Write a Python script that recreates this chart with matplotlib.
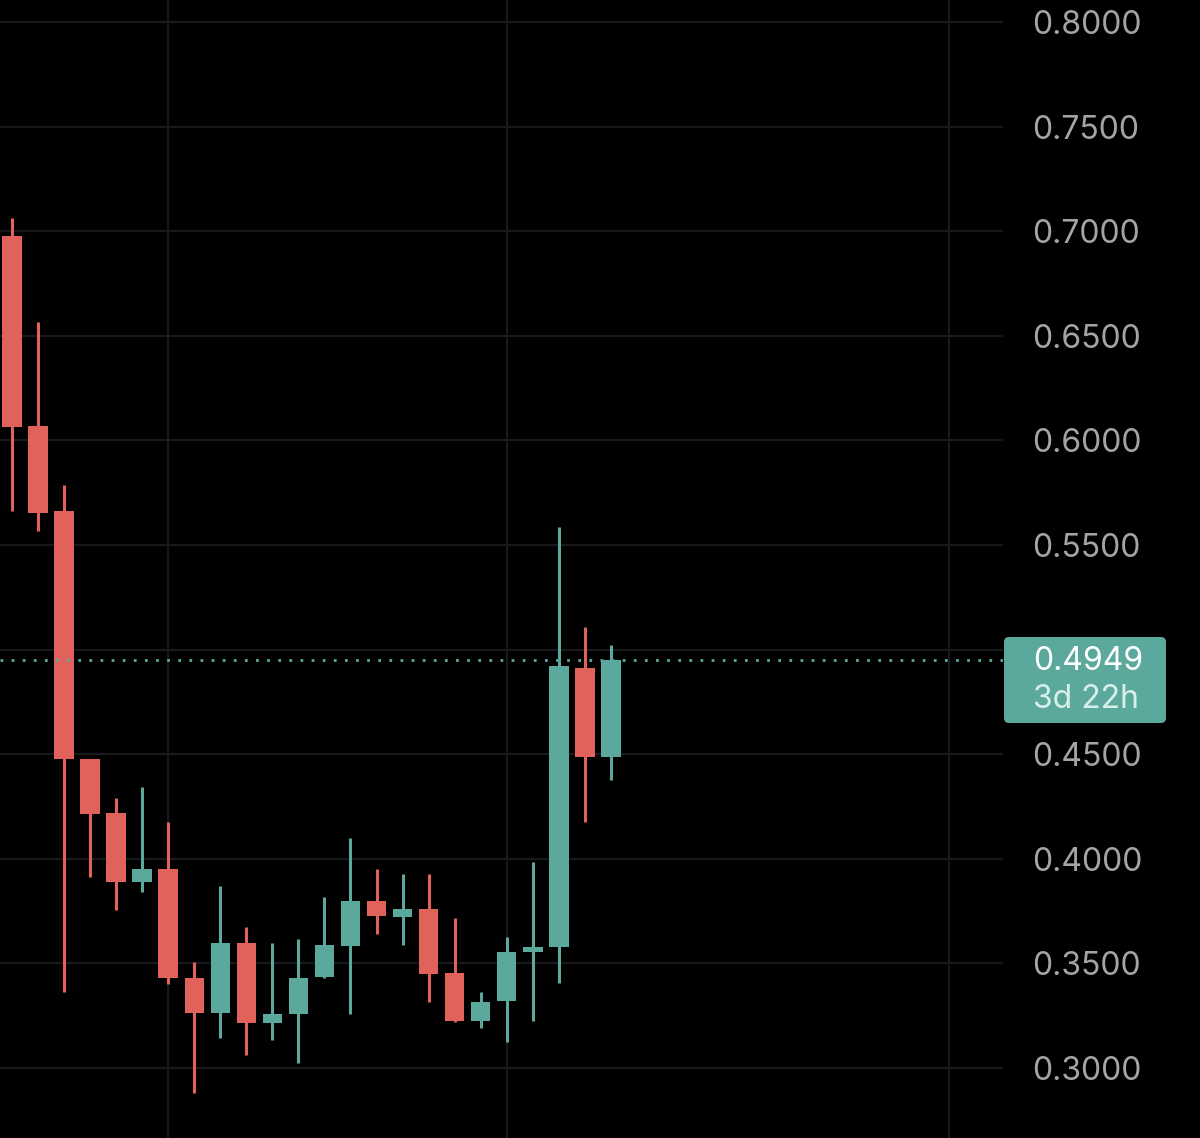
import matplotlib
matplotlib.use("Agg")
import matplotlib.pyplot as plt
from matplotlib.patches import FancyBboxPatch
from matplotlib.transforms import IdentityTransform
import numpy as np

# weekly candles
opens  = [0.6977, 0.6069, 0.5663, 0.4479, 0.4217, 0.3889, 0.3953, 0.3432,
          0.3262, 0.3595, 0.3217, 0.3257, 0.3435, 0.3585, 0.3796, 0.3722,
          0.3761, 0.3453, 0.3222, 0.3321, 0.3552, 0.3580, 0.4914, 0.4484]
highs  = [0.7062, 0.6567, 0.5787, 0.4479, 0.4288, 0.4341, 0.4174, 0.3508,
          0.3872, 0.3675, 0.3595, 0.3617, 0.3818, 0.4099, 0.3949, 0.3925,
          0.3925, 0.3716, 0.3362, 0.3625, 0.3984, 0.5588, 0.5110, 0.5022]
lows   = [0.5663, 0.5568, 0.3361, 0.3911, 0.3755, 0.3839, 0.3399, 0.2878,
          0.3142, 0.3061, 0.3132, 0.3024, 0.3430, 0.3257, 0.3638, 0.3588,
          0.3316, 0.3218, 0.3190, 0.3123, 0.3222, 0.3407, 0.4174, 0.4378]
closes = [0.6065, 0.5654, 0.4477, 0.4216, 0.3889, 0.3953, 0.3430, 0.3264,
          0.3595, 0.3217, 0.3257, 0.3432, 0.3588, 0.3796, 0.3724, 0.3761,
          0.3450, 0.3225, 0.3317, 0.3553, 0.3576, 0.4919, 0.4484, 0.4949]
last_price = 0.4949
countdown = "3d 22h"
yticks = [0.30, 0.35, 0.40, 0.45, 0.50, 0.55, 0.60, 0.65, 0.70, 0.75, 0.80]
hidden_tick = 0.50   # covered by the price label
vgrid = [6, 19, 36]

UP = "#5ba89c"
DOWN = "#e0625a"
BG = "#000000"
GRID = "#18191d"

plt.rcParams['font.family'] = ['Inter', 'DejaVu Sans']

fig = plt.figure(figsize=(12, 11.38), dpi=100, facecolor=BG)
ax = fig.add_axes([0, 0, 1003/1200, 1])
ax.set_facecolor(BG)

x = np.arange(len(opens))
cols = [UP if c >= o else DOWN for o, c in zip(opens, closes)]
bottoms = [min(o, c) for o, c in zip(opens, closes)]
heights = [max(abs(c - o), 0.0006) for o, c in zip(opens, closes)]

ax.vlines(x, lows, highs, colors=cols, linewidth=2.2, zorder=3)
ax.bar(x, heights, bottom=bottoms, width=0.75, color=cols, zorder=4)

for p in yticks:
    ax.axhline(p, color=GRID, linewidth=1.6, zorder=1)
for v in vgrid:
    ax.axvline(v, color=GRID, linewidth=1.6, zorder=1)

ax.axhline(last_price, color=UP, linewidth=2.0, linestyle=(0, (1, 3)), zorder=5)

ax.set_xlim(-0.461, 38.06)
ax.set_ylim(0.2665, 0.8105)
ax.set_xticks([])
ax.yaxis.tick_right()
ax.set_yticks(yticks)
ax.set_yticklabels(["" if t == hidden_tick else "%.4f" % t for t in yticks])
ax.tick_params(axis='y', length=0, pad=21, labelsize=23, labelcolor="#a3a3a8")
for s in ax.spines.values():
    s.set_visible(False)

# last price label box (pixel coords)
box = FancyBboxPatch((1004, 1138 - 723), 162, 86,
                     boxstyle="round,pad=0,rounding_size=5",
                     transform=IdentityTransform(), facecolor=UP,
                     edgecolor="none", zorder=10)
fig.patches.append(box)
fig.text(1033/1200, 1 - 661/1138, "%.4f" % last_price, color="white",
         fontsize=23, va="center", ha="left", zorder=11)
fig.text(1033/1200, 1 - 700/1138, countdown, color="#d9efea",
         fontsize=23, va="center", ha="left", zorder=11)

fig.savefig("out.png", dpi=100, facecolor=BG)
